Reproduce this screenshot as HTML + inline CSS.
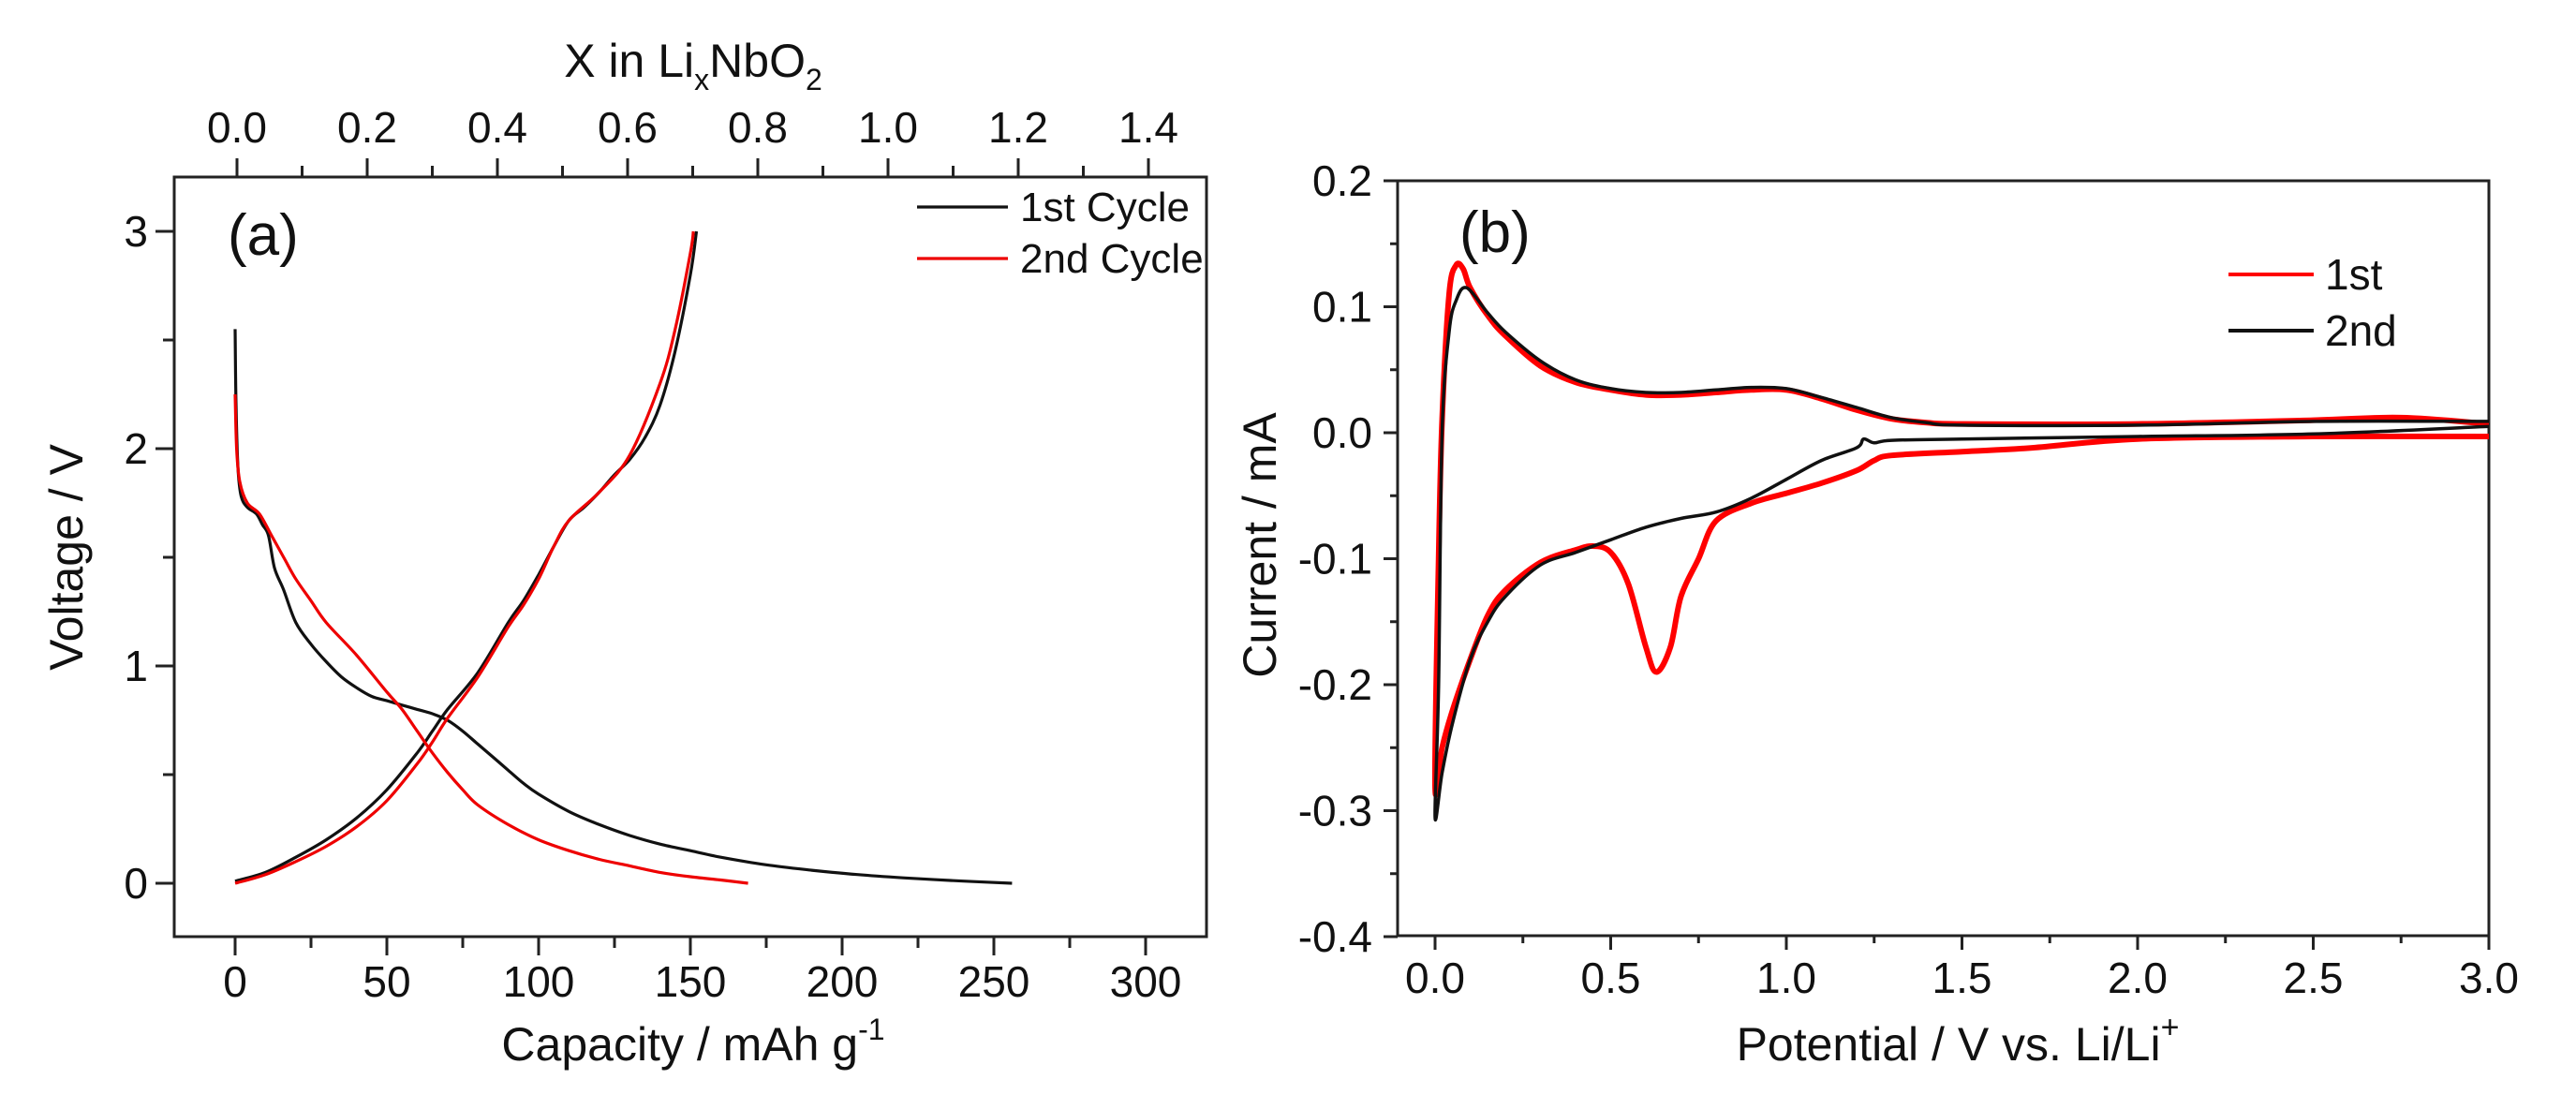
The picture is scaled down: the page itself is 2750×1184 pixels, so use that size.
<!DOCTYPE html>
<html><head><meta charset="utf-8"><style>
html,body{margin:0;padding:0;background:#fff;}
svg{display:block;font-family:"Liberation Sans",Arial,sans-serif;}
</style></head><body>
<svg id="fig" width="2750" height="1184" viewBox="0 0 2750 1184" xmlns="http://www.w3.org/2000/svg">
<rect width="2750" height="1184" fill="#fff"/>
<g id="pa"></g>
<g id="pb"></g>
</svg>
<script>
// ---- Panel (a) data: capacity (mAh/g), voltage (V)
const aDis1Cap=[0,0.3,1,2,4,7,9,11,13,16,20,25,30,35,40,45,50,55,60,65,70,75,80,85,90,95,100,110,120,130,140,150,160,175,190,205,220,240,256];
const aDis1V=[2.55,2.2,1.9,1.78,1.73,1.7,1.65,1.6,1.45,1.35,1.2,1.1,1.02,0.95,0.9,0.86,0.84,0.82,0.8,0.78,0.75,0.7,0.64,0.58,0.52,0.46,0.41,0.33,0.27,0.22,0.18,0.15,0.12,0.085,0.06,0.04,0.025,0.01,0.0];
const aDis2Cap=[0,0.5,1.5,4,8,12,16,20,25,30,40,50,55,60,65,70,75,80,90,100,110,120,130,140,150,160,169];
const aDis2V=[2.25,2.0,1.85,1.75,1.7,1.6,1.5,1.4,1.3,1.2,1.05,0.88,0.8,0.7,0.6,0.51,0.43,0.36,0.27,0.2,0.15,0.11,0.08,0.05,0.03,0.015,0.0];
const aCh1Cap=[0,10,20,30,40,50,60,65,70,80,90,95,100,105,110,115,120,125,130,135,140,145,150,152];
const aCh1V=[0.01,0.05,0.12,0.2,0.3,0.43,0.6,0.7,0.8,0.97,1.2,1.3,1.42,1.55,1.67,1.73,1.8,1.88,1.95,2.05,2.2,2.45,2.8,3.0];
const aCh2Cap=[0,10,20,30,40,50,60,65,70,80,90,95,100,105,110,120,130,140,145,150,151];
const aCh2V=[0,0.04,0.1,0.17,0.26,0.38,0.55,0.65,0.76,0.95,1.18,1.28,1.4,1.55,1.67,1.8,1.97,2.3,2.55,2.9,3.0];
const aXTicks=[0,50,100,150,200,250,300];
const aYTicks=[0,1,2,3];
const aTopTicks=["0.0","0.2","0.4","0.6","0.8","1.0","1.2","1.4"];
// ---- Panel (b) data: potential (V), current (mA)
const b2E=[3.0,2.5,2.0,1.5,1.3,1.25,1.22,1.2,1.1,1.0,0.9,0.8,0.7,0.6,0.5,0.4,0.3,0.2,0.15,0.1,0.05,0.02,0,0.01,0.02,0.04,0.06,0.09,0.15,0.2,0.3,0.4,0.5,0.6,0.7,0.8,0.9,1.0,1.1,1.2,1.3,1.4,1.5,2.0,2.5,3.0];
const b2I=[0.005,-0.001,-0.003,-0.005,-0.006,-0.008,-0.005,-0.012,-0.022,-0.037,-0.052,-0.063,-0.068,-0.075,-0.085,-0.095,-0.105,-0.13,-0.15,-0.18,-0.23,-0.27,-0.305,-0.2,0.0,0.08,0.105,0.115,0.095,0.08,0.057,0.042,0.035,0.032,0.032,0.034,0.036,0.035,0.028,0.02,0.012,0.008,0.006,0.006,0.009,0.009];
const b1E=[3.0,2.5,2.0,1.7,1.5,1.3,1.25,1.2,1.1,1.0,0.9,0.8,0.75,0.7,0.67,0.63,0.6,0.55,0.5,0.45,0.4,0.3,0.2,0.15,0.1,0.05,0.02,0,0.01,0.02,0.04,0.06,0.08,0.1,0.15,0.2,0.3,0.4,0.5,0.6,0.7,0.8,0.9,1.0,1.1,1.2,1.3,1.4,1.5,2.0,2.5,2.75,3.0];
const b1I=[-0.003,-0.003,-0.005,-0.012,-0.015,-0.018,-0.022,-0.03,-0.04,-0.048,-0.056,-0.07,-0.1,-0.13,-0.17,-0.19,-0.17,-0.12,-0.095,-0.09,-0.093,-0.103,-0.125,-0.145,-0.18,-0.22,-0.25,-0.28,-0.1,0.01,0.11,0.133,0.13,0.115,0.093,0.077,0.053,0.04,0.034,0.03,0.03,0.032,0.034,0.034,0.027,0.018,0.011,0.008,0.007,0.007,0.01,0.012,0.007];
const bXTicks=["0.0","0.5","1.0","1.5","2.0","2.5","3.0"];
const bYTicks=["0.2","0.1","0.0","-0.1","-0.2","-0.3","-0.4"];

const NS="http://www.w3.org/2000/svg";
function mk(parent,tag,attrs,text){const e=document.createElementNS(NS,tag);for(const k in attrs)e.setAttribute(k,attrs[k]);if(text!==undefined)e.textContent=text;parent.appendChild(e);return e;}
function pathD(xs,ys,fx,fy){
 const P=xs.map((v,i)=>[fx(v),fy(ys[i])]);
 let d='M'+P[0][0].toFixed(1)+' '+P[0][1].toFixed(1);
 for(let i=0;i<P.length-1;i++){
  const p0=P[Math.max(0,i-1)],p1=P[i],p2=P[i+1],p3=P[Math.min(P.length-1,i+2)];
  const c1=[p1[0]+(p2[0]-p0[0])/6,p1[1]+(p2[1]-p0[1])/6];
  const c2=[p2[0]-(p3[0]-p1[0])/6,p2[1]-(p3[1]-p1[1])/6];
  d+=' C'+c1[0].toFixed(1)+' '+c1[1].toFixed(1)+' '+c2[0].toFixed(1)+' '+c2[1].toFixed(1)+' '+p2[0].toFixed(1)+' '+p2[1].toFixed(1);
 }
 return d;}

// ---- Panel a
const pa=document.getElementById('pa');
const aL=186,aR=1288,aT=189,aB=1000;
const ax=v=>251+v*3.24, ay=v=>943-v*232;
const axTop=v=>253+v*695;
let fr=mk(pa,'rect',{x:aL,y:aT,width:aR-aL,height:aB-aT,fill:'none',stroke:'#222','stroke-width':3});

for(let v=0;v<=300;v+=25){const big=v%50===0;let t=mk(pa,'line',{x1:ax(v),x2:ax(v),y1:aB,y2:aB+(big?20:12),stroke:'#222','stroke-width':3});}
aXTicks.forEach(v=>{let t=mk(pa,'text',{x:ax(v),y:1064,'font-size':46,'text-anchor':'middle',fill:'#111'},String(v));});
for(let v=0;v<=3;v+=0.5){const big=Math.abs(v-Math.round(v))<1e-6;let t=mk(pa,'line',{x1:aL,x2:aL-(big?20:12),y1:ay(v),y2:ay(v),stroke:'#222','stroke-width':3});}
aYTicks.forEach(v=>{let t=mk(pa,'text',{x:158,y:ay(v)+16,'font-size':46,'text-anchor':'end',fill:'#111'},String(v));});
for(let i=0;i<=14;i++){const v=i/10;const big=i%2===0;let t=mk(pa,'line',{x1:axTop(v),x2:axTop(v),y1:aT,y2:aT-(big?20:12),stroke:'#222','stroke-width':3});}
aTopTicks.forEach((s,i)=>{let t=mk(pa,'text',{x:axTop(i*0.2),y:152,'font-size':46,'text-anchor':'middle',fill:'#111'},s);});
let tt=mk(pa,'text',{x:740,y:82,'font-size':50,'text-anchor':'middle',fill:'#111'});

tt.innerHTML='X in Li<tspan font-size="32" dy="14">x</tspan><tspan dy="-14">NbO</tspan><tspan font-size="32" dy="14">2</tspan>';
let xt=mk(pa,'text',{x:740,y:1132,'font-size':50,'text-anchor':'middle',fill:'#111'});

xt.innerHTML='Capacity / mAh g<tspan font-size="32" dy="-22">-1</tspan>';
let yt=mk(pa,'text',{x:0,y:0,'font-size':50,'text-anchor':'middle',fill:'#111',transform:'translate(88,595) rotate(-90)'},'Voltage / V');

let la=mk(pa,'text',{x:243,y:272,'font-size':62,fill:'#111'},'(a)');
[[aDis1Cap,aDis1V,'#111','discharge-1st'],[aCh1Cap,aCh1V,'#111','charge-1st'],[aDis2Cap,aDis2V,'#e00','discharge-2nd'],[aCh2Cap,aCh2V,'#e00','charge-2nd']].forEach(s=>{
 let p=mk(pa,'path',{d:pathD(s[0],s[1],ax,ay),fill:'none',stroke:s[2],'stroke-width':3.2,'stroke-linejoin':'round'});
 });
[['1st Cycle','#111',221],['2nd Cycle','#e00',276]].forEach(l=>{
 let g=mk(pa,'g',{});
 mk(g,'line',{x1:979,x2:1076,y1:l[2],y2:l[2],stroke:l[1],'stroke-width':3.2});
 mk(g,'text',{x:1089,y:l[2]+15,'font-size':44,fill:'#111'},l[0]);});

// ---- Panel b
const pb=document.getElementById('pb');
const bL=1492,bR=2657,bT=193,bB=999;
const bx=v=>1532+v*375, by=v=>462-v*1345;
let fb=mk(pb,'rect',{x:bL,y:bT,width:bR-bL,height:bB-bT,fill:'none',stroke:'#222','stroke-width':3});

for(let i=0;i<=12;i++){const v=i*0.25;const big=i%2===0;let t=mk(pb,'line',{x1:bx(v),x2:bx(v),y1:bB,y2:bB+(big?15:8),stroke:'#222','stroke-width':3});}
bXTicks.forEach((s,i)=>{let t=mk(pb,'text',{x:bx(i*0.5),y:1060,'font-size':46,'text-anchor':'middle',fill:'#111'},s);});
for(let i=0;i<=12;i++){const v=0.2-i*0.05;const big=i%2===0;let t=mk(pb,'line',{x1:bL,x2:bL-(big?15:8),y1:by(v),y2:by(v),stroke:'#222','stroke-width':3});}
bYTicks.forEach((s,i)=>{let t=mk(pb,'text',{x:1465,y:by(0.2-i*0.1)+16,'font-size':46,'text-anchor':'end',fill:'#111'},s);});
let xb=mk(pb,'text',{x:2090,y:1132,'font-size':50,'text-anchor':'middle',fill:'#111'});

xb.innerHTML='Potential / V vs. Li/Li<tspan font-size="34" dy="-24">+</tspan>';
let yb=mk(pb,'text',{x:0,y:0,'font-size':50,'text-anchor':'middle',fill:'#111',transform:'translate(1362,582) rotate(-90)'},'Current / mA');

let lb=mk(pb,'text',{x:1558,y:269,'font-size':62,fill:'#111'},'(b)');
let r1=mk(pb,'path',{d:pathD(b1E,b1I,bx,by),fill:'none',stroke:'#f00','stroke-width':6,'stroke-linejoin':'round'});

let r2=mk(pb,'path',{d:pathD(b2E,b2I,bx,by),fill:'none',stroke:'#111','stroke-width':3.5,'stroke-linejoin':'round'});

[['1st','#f00',293],['2nd','#111',353]].forEach(l=>{
 let g=mk(pb,'g',{});
 mk(g,'line',{x1:2379,x2:2470,y1:l[2],y2:l[2],stroke:l[1],'stroke-width':4});
 mk(g,'text',{x:2482,y:l[2]+16,'font-size':46,fill:'#111'},l[0]);});
</script>
</body></html>
